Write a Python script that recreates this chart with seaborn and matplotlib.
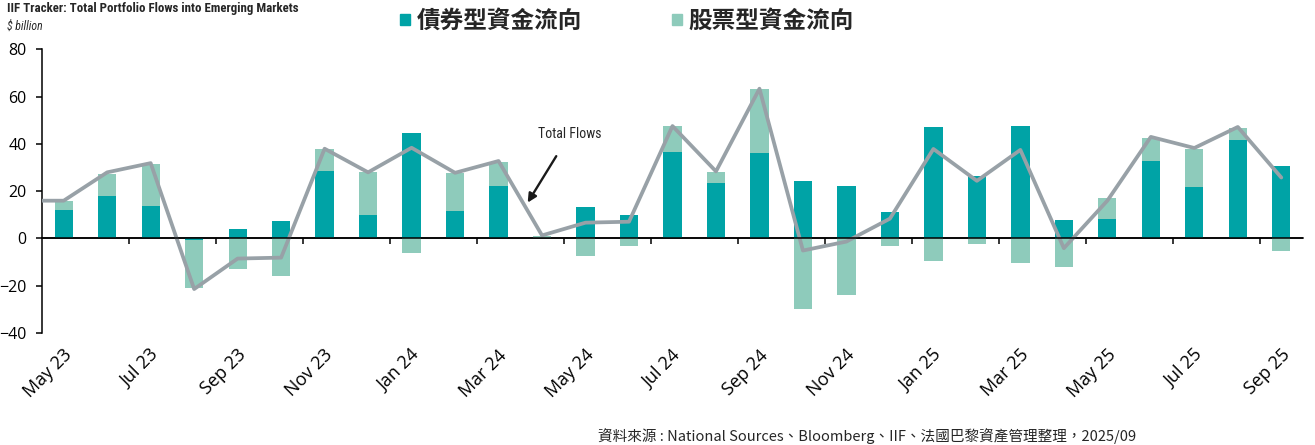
import numpy as np
import pandas as pd
import matplotlib
matplotlib.use("Agg")
import matplotlib.pyplot as plt
import matplotlib.transforms as mtransforms
from matplotlib import font_manager
from matplotlib.patches import Patch
import seaborn as sns

# monthly flows, $ billion
months = ["May 23", "Jun 23", "Jul 23", "Aug 23", "Sep 23", "Oct 23", "Nov 23", "Dec 23",
          "Jan 24", "Feb 24", "Mar 24", "Apr 24", "May 24", "Jun 24", "Jul 24", "Aug 24",
          "Sep 24", "Oct 24", "Nov 24", "Dec 24", "Jan 25", "Feb 25", "Mar 25", "Apr 25",
          "May 25", "Jun 25", "Jul 25", "Aug 25", "Sep 25"]
bond = [12, 18.1, 13.9, -0.7, 4.2, 7.6, 28.6, 10.1, 44.6, 11.8, 22.3, 0, 13.5, 10.1, 36.6,
        23.6, 36.2, 24.4, 22.3, 11.4, 47.2, 26.5, 47.6, 8, 8.4, 32.8, 21.9, 41.7, 30.7]
equity = [4, 9.4, 17.7, -20.3, -13, -16, 9.3, 18.1, -6.3, 16, 10.1, 1.2, -7.2, -3.2, 11,
          4.6, 27, -29.8, -24, -3.2, -9.7, -2.4, -10.4, -12.1, 8.6, 9.7, 16, 5, -5.1]
# total flows line starts one month earlier (Apr 23), clipped by the axis
line_months = ["Apr 23"] + months
total = [16, 16, 28, 31.9, -21.4, -8.5, -8.1, 38, 28, 38.4, 27.8, 32.8, 1.3, 6.7, 7.1,
         47.6, 28.4, 63.4, -5.1, -1.3, 8.4, 37.9, 24.4, 37.5, -4.1, 16, 43, 38.3, 47.2, 25.8]

title = "IIF Tracker: Total Portfolio Flows into Emerging Markets"
unit = "$ billion"
bond_label = "債券型資金流向"
equity_label = "股票型資金流向"
source = "資料來源 : National Sources、Bloomberg、IIF、法國巴黎資產管理整理，2025/09"

bond_color = "#00A3A6"
equity_color = "#8ECBBB"
line_color = "#98A1A7"

sns.set_style("ticks")
plt.rcParams["font.family"] = ["Open Sans", "Noto Sans CJK TC", "DejaVu Sans"]

# narrow font for the small header texts if there is one
installed = {f.name for f in font_manager.fontManager.ttflist}
narrow = None
for name in ["Liberation Sans Narrow", "Arial Narrow", "DejaVu Sans Condensed", "Roboto Condensed"]:
    if name in installed:
        narrow = name
        break
if narrow:
    head_font, title_size, unit_size, note_size = narrow, 9.3, 8.5, 10
else:
    head_font, title_size, unit_size, note_size = "Liberation Sans", 7.6, 7.4, 9

df = pd.DataFrame({"month": months, "bond": bond, "equity": equity})
# stack: positive equity sits on positive bond, negative on negative bond
eq_bottom = np.where(np.sign(df["equity"]) == np.sign(df["bond"]), df["bond"], 0)

fig = plt.figure(figsize=(13.15, 4.45), dpi=100)
ax = fig.add_axes([0.0319, 0.2517, 0.959, 0.6371])

sns.barplot(data=df, x="month", y="bond", order=months, color=bond_color,
            width=0.42, saturation=1, linewidth=0, ax=ax, zorder=2)
sns.barplot(data=df, x="month", y="equity", order=months, color=equity_color,
            width=0.42, saturation=1, linewidth=0, bottom=eq_bottom, ax=ax, zorder=2)

line_x = np.arange(len(line_months)) - 1
sns.lineplot(x=line_x, y=total, color=line_color, linewidth=2.7, ax=ax, zorder=3)

ax.axhline(0, color="black", linewidth=1.1, zorder=4)

ax.set_xlim(-0.5, len(months) - 0.5)
ax.set_ylim(-40, 80)
ax.set_yticks(np.arange(-40, 81, 20))
ax.set_xticks(np.arange(0, len(months), 2))
ax.set_xticklabels(months[::2])
ax.set_xlabel("")
ax.set_ylabel("")

for s in ["top", "right", "bottom"]:
    ax.spines[s].set_visible(False)
ax.spines["left"].set_color("black")
ax.spines["left"].set_linewidth(1.1)
ax.tick_params(axis="y", length=4, width=1.1, color="black", pad=7,
               labelsize=11.5, labelcolor="black")
ax.tick_params(axis="x", length=0, pad=14, labelsize=13, labelcolor="black")

offset = mtransforms.ScaledTranslation(4 / 72, 0, fig.dpi_scale_trans)
for lab in ax.get_xticklabels():
    lab.set_rotation(45)
    lab.set_ha("right")
    lab.set_va("center")
    lab.set_rotation_mode("anchor")
    lab.set_transform(lab.get_transform() + offset)

# ticks on the zero line, between every second month
zero = ax.secondary_xaxis((0 - (-40)) / 120)
zero.set_xticks(np.arange(1.5, len(months) - 1, 2))
zero.set_xticklabels([])
zero.spines["bottom"].set_linewidth(1.1)
zero.spines["bottom"].set_color("black")
zero.tick_params(axis="x", length=4, width=1.1, color="black", direction="out")

ax.annotate("Total Flows", xy=(10.67, 15.2), xytext=(11.64, 44.2),
            ha="center", va="center", fontsize=note_size, family=[head_font, "DejaVu Sans"],
            arrowprops=dict(arrowstyle="-|>", color="#1a1a1a", lw=1.7,
                            mutation_scale=13, shrinkA=10, shrinkB=0))

fig.text(0.0053, 0.982, title, ha="left", va="center", fontsize=title_size, fontweight="bold",
         family=[head_font, "DejaVu Sans"])
fig.text(0.0053, 0.941, unit, ha="left", va="center", fontsize=unit_size, style="italic",
         family=[head_font, "DejaVu Sans"])

handles = [Patch(color=bond_color), Patch(color=equity_color)]
fig.legend(handles, [bond_label, equity_label], loc="center", bbox_to_anchor=(0.477, 0.953),
           ncol=2, frameon=False, handlelength=0.4, handleheight=0.4, handletextpad=0.3,
           columnspacing=3.8, prop={"family": ["Noto Sans CJK TC", "DejaVu Sans"],
                                    "size": 17, "weight": "bold"})

fig.text(0.455, 0.02, source, ha="left", va="center", fontsize=10.5,
         family=["Noto Sans CJK TC", "DejaVu Sans"])

fig.savefig("out.png", dpi=100)
